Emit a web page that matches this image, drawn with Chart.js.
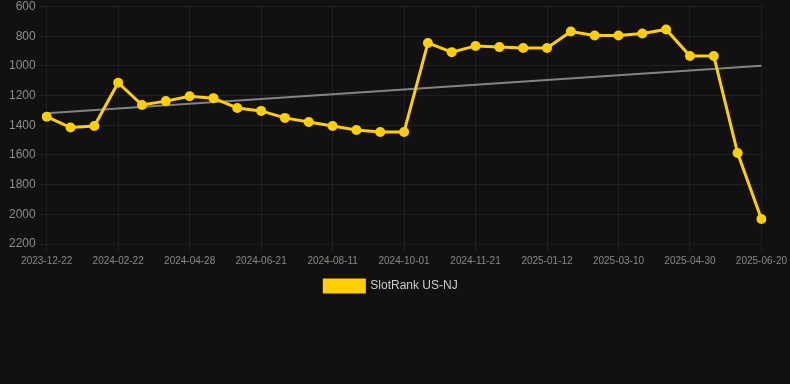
<!DOCTYPE html>
<html>
<head>
<meta charset="utf-8">
<script src="https://cdn.jsdelivr.net/npm/chart.js@4/dist/chart.umd.min.js"></script>
<style>
  html, body { margin: 0; padding: 0; background: #111111; }
  #wrap { width: 790px; height: 302px; position: relative; }
</style>
</head>
<body>
<div id="wrap"><canvas id="chart-rank"></canvas></div>
<script>
// SlotRank US-NJ, rank values (lower = better, axis reversed)
const tickDates = [
  '2023-12-22', '2024-02-22', '2024-04-28', '2024-06-21', '2024-08-11', '2024-10-01',
  '2024-11-21', '2025-01-12', '2025-03-10', '2025-04-30', '2025-06-20'
];
const rankValues = [
  1342, 1415, 1405, 1113, 1263, 1237, 1204, 1217, 1283, 1303,
  1350, 1378, 1405, 1432, 1445, 1445, 845, 907, 865, 873,
  879, 879, 768, 795, 795, 781, 754, 933, 933, 1587, 2032
];
const trendStart = 1319;
const trendEnd = 998;

const LABEL_EVERY = 3;
const YELLOW = '#ffcf00';
const GRID = 'rgba(255,255,255,0.06)';

Chart.defaults.font.family = 'Arial, "Liberation Sans", sans-serif';

const labels = rankValues.map((_, i) => i % LABEL_EVERY === 0 ? tickDates[i / LABEL_EVERY] : '');
const trend = rankValues.map((_, i) => i === 0 ? trendStart : (i === rankValues.length - 1 ? trendEnd : null));

new Chart(document.getElementById('chart-rank'), {
  type: 'line',
  data: {
    labels: labels,
    datasets: [
      {
        label: 'SlotRank US-NJ',
        data: rankValues,
        borderColor: YELLOW,
        backgroundColor: YELLOW,
        pointBackgroundColor: YELLOW,
        pointBorderColor: YELLOW,
        borderWidth: 3,
        pointRadius: 5,
        pointBorderWidth: 0,
        tension: 0,
      },
      {
        label: 'trend',
        data: trend,
        borderColor: 'rgba(150,150,150,0.85)',
        borderWidth: 2,
        pointRadius: 0,
        spanGaps: true,
      }
    ]
  },
  options: {
    responsive: true,
    maintainAspectRatio: false,
    animation: false,
    layout: { padding: { left: 6, right: 14, top: 0, bottom: 0 } },
    plugins: {
      legend: {
        position: 'bottom',
        labels: {
          color: '#cccccc',
          font: { size: 12 },
          filter: (item) => item.text !== 'trend',
        }
      },
      tooltip: { enabled: false }
    },
    scales: {
      x: {
        grid: {
          color: (ctx) => ctx.index % LABEL_EVERY === 0 ? GRID : 'transparent',
        },
        ticks: {
          color: '#888888',
          font: { size: 10 },
          autoSkip: false,
          maxRotation: 0,
        }
      },
      y: {
        reverse: true,
        min: 600,
        max: 2200,
        grid: { color: GRID },
        border: { display: false },
        ticks: {
          color: '#8c8c8c',
          font: { size: 12, lineHeight: 0.6 },
          stepSize: 200,
          callback: (v) => String(v),
        }
      }
    }
  }
});
</script>
</body>
</html>
